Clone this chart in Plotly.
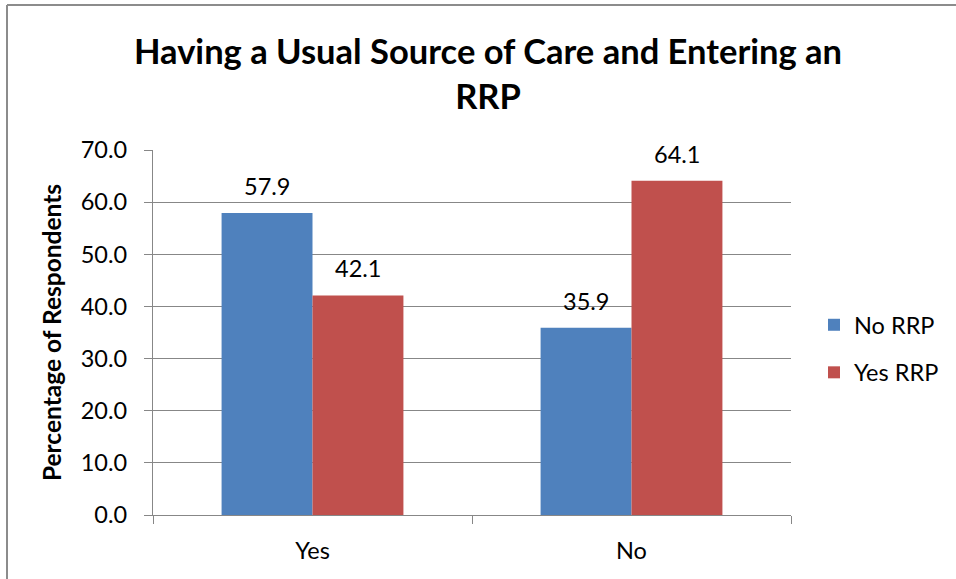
import plotly.graph_objects as go

categories = ["Yes", "No"]
no_rrp = [57.9, 35.9]
yes_rrp = [42.1, 64.1]
series_names = ["No RRP", "Yes RRP"]
colors = ["#4F81BD", "#C0504D"]
y_ticks = [0, 10, 20, 30, 40, 50, 60, 70]

FONT = "Lato, Open Sans, sans-serif"
GRID = "#878787"
W, H = 956, 579
L, R, T, B = 153, 165, 150, 64
pw, ph = W - L - R, H - T - B

def px_x(x):
    return (x - L) / pw

def px_y(y):
    return 1 - (y - T) / ph

fig = go.Figure()
for name, vals, col in zip(series_names, [no_rrp, yes_rrp], colors):
    fig.add_trace(go.Bar(
        x=categories, y=vals, name=name, marker=dict(color=col, line=dict(width=0)),
        legendgroup=name,
    ))

# data labels
bar_px = 91
for i, vals in enumerate([no_rrp, yes_rrp]):
    shift = -bar_px / 2 if i == 0 else bar_px / 2
    for c, v in zip(categories, vals):
        fig.add_annotation(x=c, y=v, text=f"{v:.1f}", showarrow=False,
                           xshift=shift, yshift=27, yanchor="middle",
                           font=dict(family=FONT, size=23.5, color="#000"))

fig.update_layout(
    width=W, height=H,
    margin=dict(l=L, r=R, t=T, b=B),
    paper_bgcolor="white", plot_bgcolor="white",
    barmode="group", bargap=0.43, bargroupgap=0,
    title=dict(text="<b>Having a Usual Source of Care and Entering an<br>RRP</b>",
               x=488 / W, xanchor="center", y=1 - 64 / H, yanchor="middle",
               font=dict(family=FONT, size=34.5, color="#000")),
    legend=dict(x=px_x(814), xanchor="left", xref="paper", y=px_y(349), yanchor="middle",
                font=dict(family=FONT, size=23.5, color="#000"),
                tracegroupgap=14, itemwidth=30, bgcolor="rgba(0,0,0,0)"),
    font=dict(family=FONT, color="#000"),
    shapes=[
        dict(type="line", xref="paper", yref="paper", x0=px_x(7), x1=px_x(960),
             y0=px_y(5), y1=px_y(5), line=dict(color="#8c8c8c", width=2)),
        dict(type="line", xref="paper", yref="paper", x0=px_x(7), x1=px_x(7),
             y0=px_y(5), y1=px_y(585), line=dict(color="#8c8c8c", width=2)),
    ],
)
fig.update_yaxes(range=[0, 70], tickvals=y_ticks, ticktext=[f"{t:.1f}" for t in y_ticks],
                 showgrid=True, gridcolor=GRID, gridwidth=1.3,
                 showline=True, linecolor=GRID, linewidth=1.3,
                 ticks="outside", ticklen=8, tickcolor=GRID, tickwidth=1.3,
                 tickfont=dict(family=FONT, size=23.5, color="#000"),
                 ticklabelstandoff=12, zeroline=False,
                 title=dict(text="<b>Percentage of Respondents</b>", standoff=12,
                            font=dict(family=FONT, size=24.5, color="#000")))
fig.update_xaxes(type="category", tickson="boundaries", ticks="outside", ticklen=8,
                 tickcolor=GRID, tickwidth=1.3, showline=True, linecolor=GRID, linewidth=1.3,
                 showgrid=False, tickfont=dict(family=FONT, size=23.5, color="#000"),
                 ticklabelstandoff=15)

fig.write_html("out.html", config={"displayModeBar": False},
               post_script="document.body.style.margin='0';")
